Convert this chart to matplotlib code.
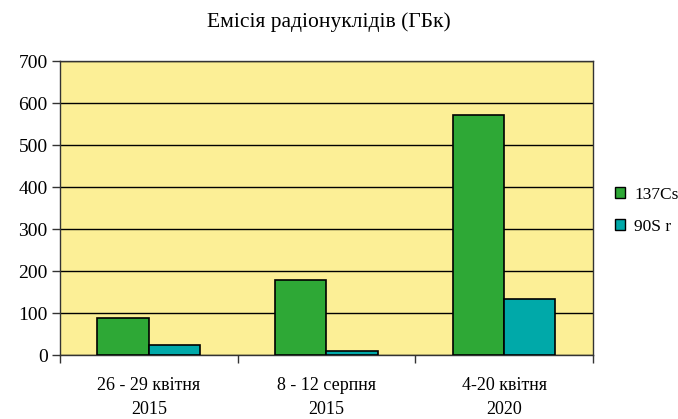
import matplotlib
matplotlib.use("Agg")
import matplotlib.pyplot as plt
import numpy as np
from matplotlib.patches import Patch

categories = ["26 - 29 квітня\n2015", "8 - 12 серпня\n2015", "4-20 квітня\n2020"]
cs137 = [87, 178, 572]
sr90 = [25, 10, 134]
series_names = ["137Cs", "90S r"]
title = "Емісія радіонуклідів (ГБк)"
yticks = [0, 100, 200, 300, 400, 500, 600, 700]

plt.rcParams['font.family'] = ['Liberation Serif', 'DejaVu Serif']

fig = plt.figure(figsize=(6.78, 4.19), dpi=100)
ax = fig.add_axes([0.0885, 0.1527, 0.786, 0.7017])
ax.set_facecolor('#FCEF96')

x = np.arange(len(categories))
w = 0.289
green = '#2EA836'
cyan = '#00A9A9'
ax.bar(x - w / 2, cs137, w, color=green, edgecolor='black', linewidth=1.2, zorder=3)
ax.bar(x + w / 2, sr90, w, color=cyan, edgecolor='black', linewidth=1.2, zorder=3)

ax.set_xlim(-0.5, 2.5)
ax.set_ylim(0, 700)
ax.set_yticks(yticks)
ax.set_yticklabels([str(v) for v in yticks], fontsize=14)
ax.yaxis.grid(True, color='black', linewidth=1.0, zorder=1)
ax.set_axisbelow(True)

ax.set_xticks(x)
ax.set_xticklabels(categories, fontsize=13, linespacing=1.55)
ax.set_xticks([-0.5, 0.5, 1.5, 2.5], minor=True)
ax.tick_params(axis='x', which='major', length=0, pad=16)
ax.tick_params(axis='x', which='minor', length=6, width=1.0, color='#333333')
ax.tick_params(axis='y', length=6, width=1.0, color='#333333', pad=3)

for side in ['left', 'bottom', 'top', 'right']:
    ax.spines[side].set_color('#333333')
    ax.spines[side].set_linewidth(1.0)

fig.text(0.485, 0.948, title, ha='center', va='center', fontsize=15.5)

handles = [Patch(facecolor=green, edgecolor='black', linewidth=1.0),
           Patch(facecolor=cyan, edgecolor='black', linewidth=1.0)]
fig.legend(handles, series_names, loc='center left', bbox_to_anchor=(0.907, 0.497),
           frameon=False, fontsize=12.5, handlelength=0.6, handleheight=0.6,
           handletextpad=0.5, labelspacing=0.9, borderaxespad=0, borderpad=0)

fig.savefig("out.png", dpi=100)
